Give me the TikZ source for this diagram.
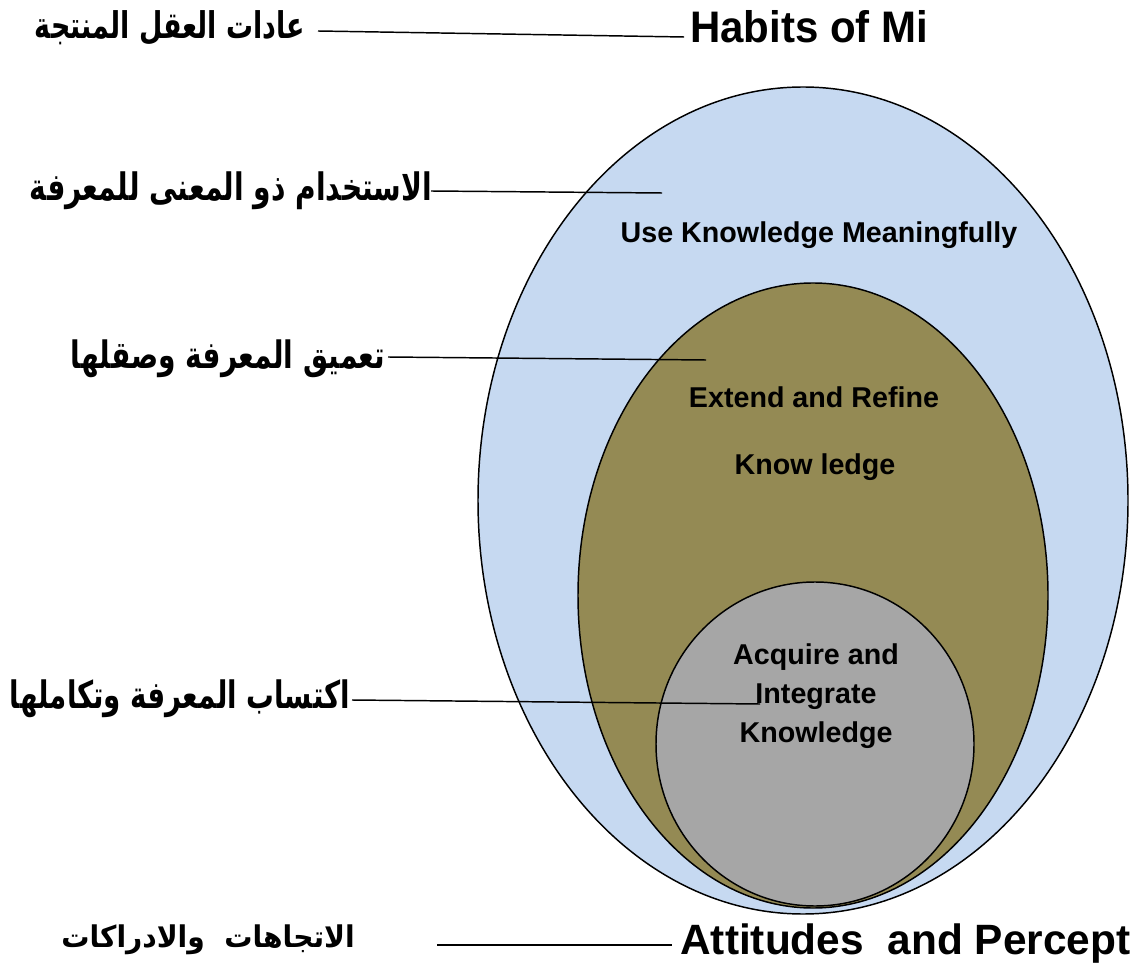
\documentclass[tikz,border=0pt]{standalone}
\usepackage{fontspec}
\setmainfont{Liberation Sans}
\newfontfamily\arabicfont[Script=Arabic]{DejaVu Sans}
\usepackage{graphicx}
\TeXXeTstate=1
\definecolor{outerblue}{HTML}{C6D9F1}
\definecolor{olive}{HTML}{948A54}
\definecolor{midgrey}{HTML}{A6A6A6}
\tikzset{
  ring/.style={draw=black,line width=1.1pt},
  conn/.style={draw=black,line width=1.1pt},
  artext/.style={inner sep=0pt,font=\arabicfont\bfseries},
  head/.style={inner sep=0pt,anchor=base west,font=\fontsize{31.5}{34}\selectfont\bfseries},
  inner/.style={inner sep=0pt,anchor=base,font=\fontsize{21.5}{24}\selectfont\bfseries},
}
\begin{document}
\begin{tikzpicture}[x=0.75pt,y=-0.75pt]
\useasboundingbox (0,0) rectangle (1142,969);
\fill[white] (0,0) rectangle (1142,969);
% ellipses
\path[ring,fill=outerblue] (803,500.5) ellipse [x radius=325,y radius=413.5];
\path[ring,fill=olive] (813,595.5) ellipse [x radius=235,y radius=312.5];
\path[ring,fill=midgrey] (815,744) ellipse [x radius=159,y radius=162];
% English texts
\node[head] (en1) at (690,43) {\resizebox{178.5pt}{24pt}{Habits of Mi}};
\node[head] (en5) at (680,954) {\resizebox{337.5pt}{!}{Attitudes\ \ and Percept}};
\node[inner] (use) at (819,243) {Use Knowledge Meaningfully};
\node[inner] (ext1) at (814,408) {Extend and Refine};
\node[inner] (ext2) at (815,475) {Know ledge};
\node[inner] (acq1) at (816,664) {Acquire and};
\node[inner] (acq2) at (816,703) {Integrate};
\node[inner] (acq3) at (816,742) {Knowledge};
% Arabic texts
\node[artext] (ar1) at (170,27.5) {\resizebox*{202.5pt}{26pt}{\beginR عادات العقل المنتجة\endR}};
\node[artext] (ar2) at (231,191) {\resizebox*{301.5pt}{28.5pt}{\beginR الاستخدام ذو المعنى للمعرفة\endR}};
\node[artext] (ar3) at (228,359) {\resizebox*{236pt}{28.5pt}{\beginR تعميق المعرفة وصقلها\endR}};
\node[artext] (ar4) at (180,699) {\resizebox*{255pt}{28.5pt}{\beginR اكتساب المعرفة وتكاملها\endR}};
\node[artext] (ar5) at (208,940) {\resizebox*{220pt}{22.5pt}{\beginR الاتجاهات\ \ والادراكات\endR}};
% connector end points
\coordinate (l1a) at (318,31);
\coordinate (l1b) at (684,37);
\coordinate (l2a) at (431,191);
\coordinate (l2b) at (662,193);
\coordinate (l3a) at (388,357);
\coordinate (l3b) at (706,360);
\coordinate (l4a) at (352,700);
\coordinate (l4b) at (760,704);
\coordinate (l5a) at (437,945);
\coordinate (l5b) at (672,945);
\draw[conn] (l1a) -- (l1b);
\draw[conn] (l2a) -- (l2b);
\draw[conn] (l3a) -- (l3b);
\draw[conn] (l4a) -- (l4b);
\draw[conn] (l5a) -- (l5b);
\end{tikzpicture}
\end{document}
